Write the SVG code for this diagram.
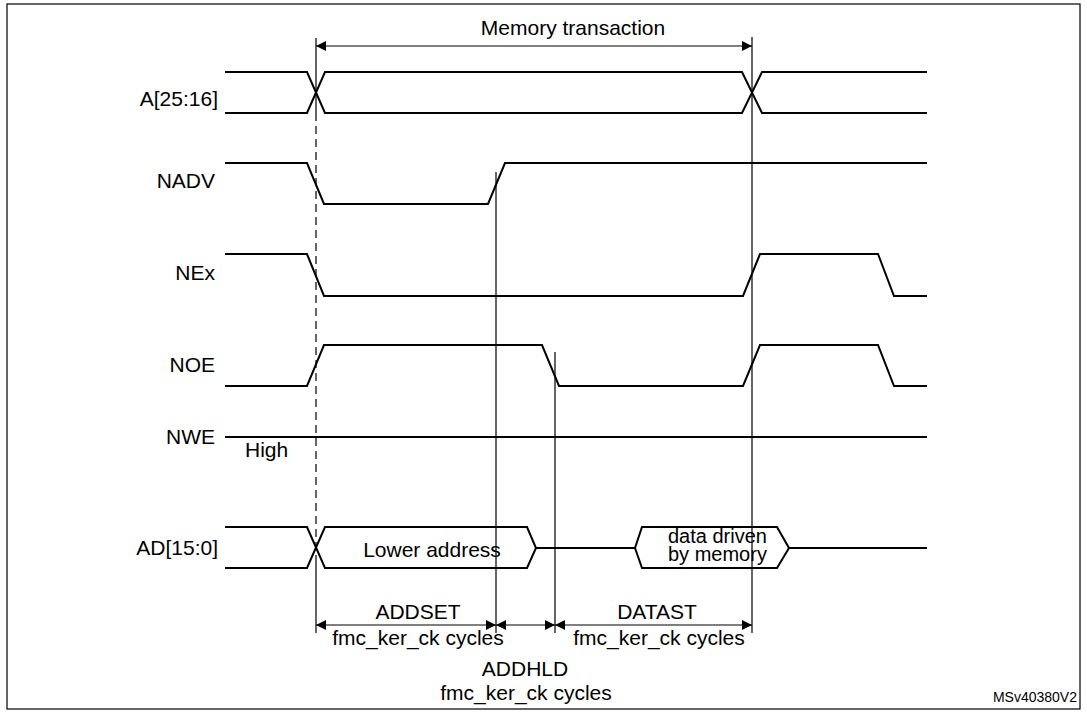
<svg xmlns="http://www.w3.org/2000/svg" width="1087" height="712" viewBox="0 0 1087 712">
<defs>
<marker id="ah" viewBox="0 0 10 10" refX="10" refY="5" markerWidth="14" markerHeight="10" markerUnits="userSpaceOnUse" orient="auto-start-reverse"><path d="M0,0 L10,5 L0,10 z" fill="#000"/></marker>
</defs>
<style>
text{font-family:"Liberation Sans",Arial,sans-serif;font-size:21px;fill:#000}
.lbl{text-anchor:end}
.c{text-anchor:middle}
.sig{fill:none;stroke:#000;stroke-width:2}
.thin{fill:none;stroke:#000;stroke-width:1.2}
</style>
<rect x="7" y="4" width="1073" height="705" fill="#fff" stroke="#000" stroke-width="1.2"/>
<g id="A">
<text class="lbl" x="218" y="106">A[25:16]</text>
<path class="sig" d="M225,72 H307 L325,113 H742 L762,72 H927 M225,113 H307 L325,72 H742 L762,113 H927"/>
</g>
<g id="NADV">
<text class="lbl" x="215" y="188">NADV</text>
<path class="sig" d="M225,163 H307 L324,204 H488 L505,163 H927"/>
</g>
<g id="NEx">
<text class="lbl" x="215" y="280">NEx</text>
<path class="sig" d="M225,254 H307 L324,296 H743 L760,254 H878 L894,296 H927"/>
</g>
<g id="NOE">
<text class="lbl" x="215" y="372">NOE</text>
<path class="sig" d="M225,386 H307 L324,345 H542 L559,386 H743 L760,345 H878 L894,386 H927"/>
</g>
<g id="NWE">
<text class="lbl" x="215" y="444">NWE</text>
<text x="245" y="457">High</text>
<path class="sig" d="M225,437 H927"/>
</g>
<g id="AD">
<text class="lbl" x="218" y="555">AD[15:0]</text>
<path class="sig" d="M225,527 H307 L325,568 H527 L536,548 L527,527 H325 L307,568 H225 M536,548 H635 L642,527 H777 L789,548 L777,568 H642 L635,548 M789,548 H927"/>
<text class="c" x="432" y="557">Lower address</text>
<text x="668" y="543" style="font-size:20px">data driven</text>
<text x="668" y="561" style="font-size:20px">by memory</text>
</g>
<g id="connectors">
<path class="thin" d="M316,113 V555" stroke-dasharray="8,5"/>
<path class="thin" d="M316,38 V113 M316,555 V633 M496,172 V633 M555,352 V633 M752,37 V633"/>
<path class="thin" d="M316,46 H752" marker-start="url(#ah)" marker-end="url(#ah)"/>
<path class="thin" d="M316,625 H496" marker-start="url(#ah)" marker-end="url(#ah)"/>
<path class="thin" d="M496,625 H555" marker-start="url(#ah)" marker-end="url(#ah)"/>
<path class="thin" d="M555,625 H752" marker-start="url(#ah)" marker-end="url(#ah)"/>
</g>
<g id="labels">
<text class="c" x="573" y="35">Memory transaction</text>
<text class="c" x="418" y="619">ADDSET</text>
<text class="c" x="418" y="645">fmc_ker_ck cycles</text>
<text class="c" x="657" y="619">DATAST</text>
<text class="c" x="659" y="645">fmc_ker_ck cycles</text>
<text class="c" x="525" y="676">ADDHLD</text>
<text class="c" x="526" y="700">fmc_ker_ck cycles</text>
<text x="1077" y="702" style="text-anchor:end;font-size:14px">MSv40380V2</text>
</g>
</svg>
